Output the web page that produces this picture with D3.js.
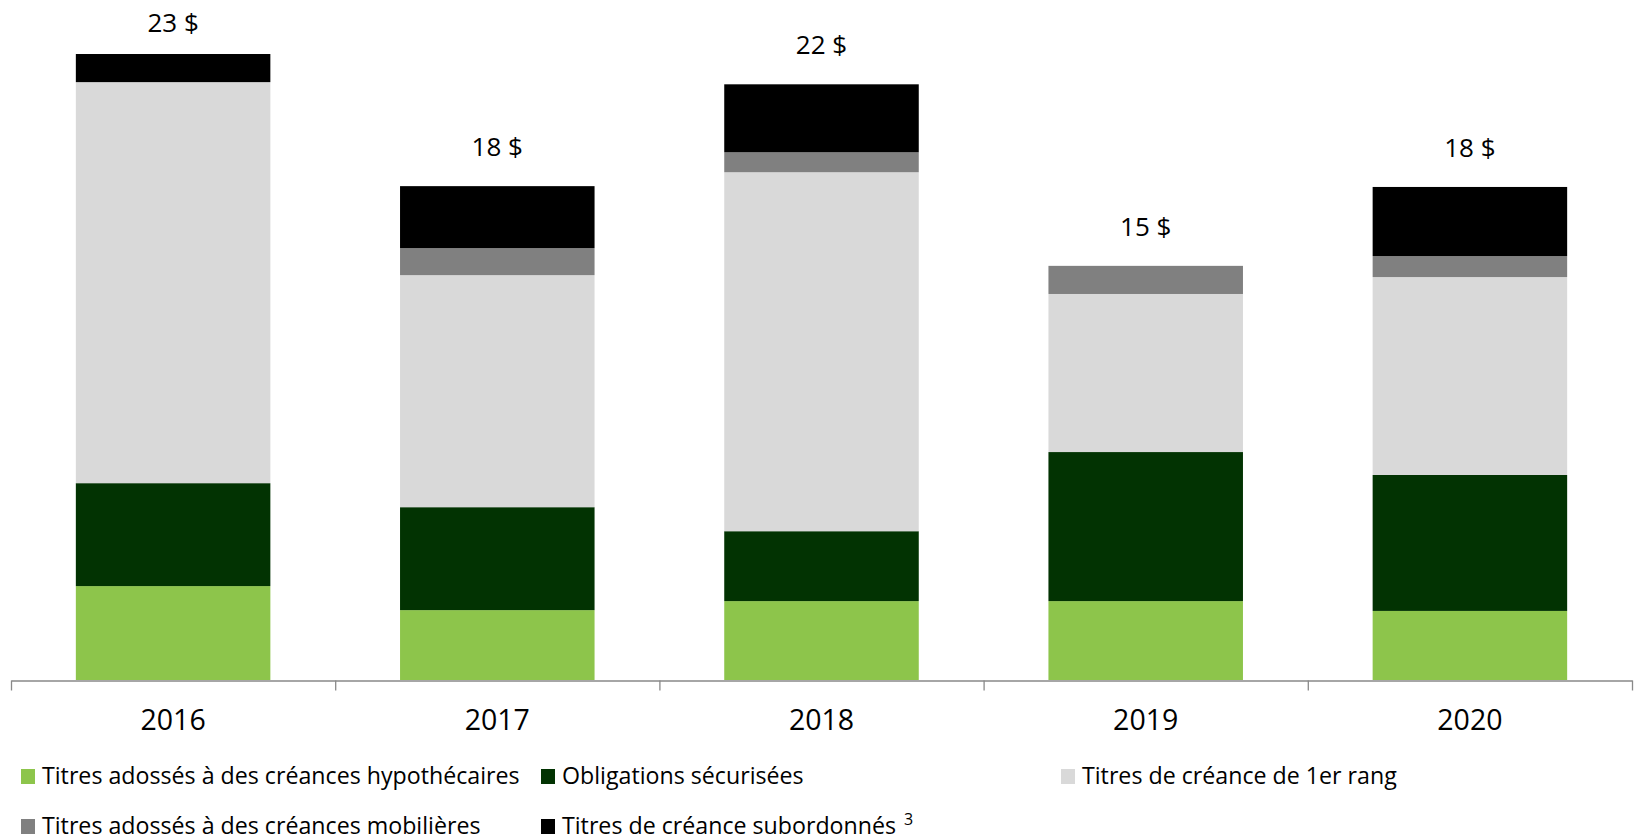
<!DOCTYPE html>
<html>
<head>
<meta charset="utf-8">
<script src="https://cdn.jsdelivr.net/npm/d3@7"></script>
<style>
  html, body { margin: 0; padding: 0; background: #ffffff; }
  svg { display: block; }
  text { font-family: "Open Sans", sans-serif; fill: #000; }
</style>
</head>
<body>
<svg id="chart" width="1634" height="840"></svg>
<script>
// ---- Data (milliards $) ----
const years = ["2016", "2017", "2018", "2019", "2020"];
const mortgageBacked   = [3.44, 2.56, 2.89, 2.89, 2.53]; // Titres adossés à des créances hypothécaires
const coveredBonds     = [3.77, 3.77, 2.56, 5.46, 4.98]; // Obligations sécurisées
const seniorDebt       = [14.69, 8.50, 13.15, 5.79, 7.25]; // Titres de créance de 1er rang
const assetBacked      = [0.00, 0.99, 0.73, 1.03, 0.77]; // Titres adossés à des créances mobilières
const subordinatedDebt = [1.03, 2.27, 2.49, 0.00, 2.53]; // Titres de créance subordonnés
const seriesNames = [
  "Titres adossés à des créances hypothécaires",
  "Obligations sécurisées",
  "Titres de créance de 1er rang",
  "Titres adossés à des créances mobilières",
  "Titres de créance subordonnés"
];
const seriesKeys = ["mbs", "covered", "senior", "abs", "sub"];
const seriesColors = ["#8DC54B", "#023302", "#D9D9D9", "#808080", "#000000"];

// ---- Build table ----
const seriesArrays = [mortgageBacked, coveredBonds, seniorDebt, assetBacked, subordinatedDebt];
const table = years.map((yr, i) => {
  const row = { year: yr };
  seriesKeys.forEach((k, j) => row[k] = seriesArrays[j][i]);
  return row;
});

const svg = d3.select("#chart");
const baseY = 680;
const x = d3.scaleBand().domain(years).range([11, 1632]).paddingInner(0.4).paddingOuter(0.2);
const y = d3.scaleLinear().domain([0, 24]).range([baseY, baseY - 24 * 27.3]);
const color = d3.scaleOrdinal().domain(seriesKeys).range(seriesColors);

const stacked = d3.stack().keys(seriesKeys)(table);

svg.append("g").selectAll("g")
  .data(stacked)
  .join("g")
  .attr("fill", d => color(d.key))
  .selectAll("rect")
  .data(d => d)
  .join("rect")
  .attr("x", d => x(d.data.year))
  .attr("width", x.bandwidth())
  .attr("y", d => y(d[1]))
  .attr("height", d => y(d[0]) - y(d[1]));

// Totals labels
const fmt = d3.format(".0f");
svg.append("g").selectAll("text")
  .data(table)
  .join("text")
  .attr("x", d => x(d.year) + x.bandwidth() / 2)
  .attr("y", d => Math.max(32, y(d3.sum(seriesKeys, k => d[k])) - 30))
  .attr("text-anchor", "middle")
  .style("font-size", "26px")
  .text(d => fmt(d3.sum(seriesKeys, k => d[k])) + " $");

// Axis: ticks at category boundaries
const edgeScale = d3.scaleLinear().domain([0, years.length]).range(x.range());
const edgeAxis = d3.axisBottom(edgeScale)
  .tickValues(d3.range(years.length + 1))
  .tickFormat("")
  .tickSizeInner(10)
  .tickSizeOuter(0);
const gEdge = svg.append("g").attr("transform", `translate(0,${baseY + 0.5})`).call(edgeAxis);
gEdge.selectAll("path, line").attr("stroke", "#898989").attr("stroke-width", 1.3);

const labelAxis = d3.axisBottom(x).tickSize(0).tickPadding(0);
const gLab = svg.append("g").attr("transform", `translate(0,${baseY})`).call(labelAxis);
gLab.select(".domain").remove();
gLab.selectAll("text")
  .attr("y", 50).attr("dy", 0)
  .style("font-size", "28.5px")
  .style("font-family", "'Open Sans', sans-serif")
  .attr("fill", "#000");

// Legend
const legendPos = [
  { col: 21, row: 784 },
  { col: 541, row: 784 },
  { col: 1061, row: 784 },
  { col: 21, row: 834 },
  { col: 541, row: 834 }
];
const legend = svg.append("g").selectAll("g")
  .data(seriesKeys)
  .join("g")
  .attr("transform", (d, i) => `translate(${legendPos[i].col},${legendPos[i].row})`);
legend.append("rect")
  .attr("x", 0).attr("y", -15).attr("width", 14).attr("height", 15)
  .attr("fill", d => color(d));
const lt = legend.append("text")
  .attr("x", 21).attr("y", 0)
  .style("font-size", "23.2px")
  .text((d, i) => seriesNames[i]);
lt.filter((d, i) => i === 4)
  .append("tspan")
  .attr("dx", 8).attr("dy", -9)
  .style("font-size", "16px")
  .text("3");
</script>
</body>
</html>
